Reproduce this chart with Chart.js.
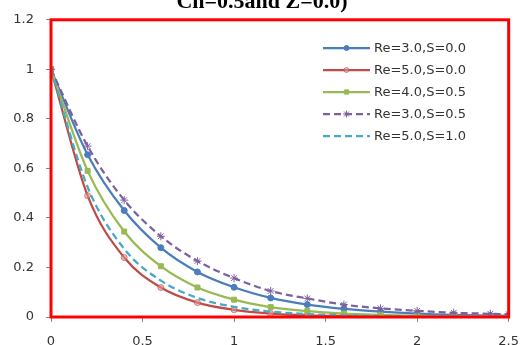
<!DOCTYPE html>
<html>
<head>
<meta charset="utf-8">
<script src="https://cdn.jsdelivr.net/npm/chart.js@4.4.0/dist/chart.umd.min.js"></script>
<style>
  html, body { margin: 0; padding: 0; background: #fff; overflow: hidden; }
  .wrap { position: relative; width: 531px; height: 345px; }
  .title {
    position: absolute; top: -10px; left: 0; width: 524px; text-align: center;
    font: bold 22px "Liberation Serif", serif; line-height: 22px; color: #000;
  }
</style>
</head>
<body>
<div class="wrap">
  <canvas class="chart" width="531" height="345"></canvas>
  <div class="title">Cn=0.5and Z=0.0)</div>
</div>
<script>
// x 값 (점 위치)
const xVals = [0, 0.2, 0.4, 0.6, 0.8, 1.0, 1.2, 1.4, 1.6, 1.8, 2.0, 2.2, 2.4, 2.5];

// 각 시리즈 값
const re3s0 = [1, 0.655, 0.43, 0.28, 0.182, 0.12, 0.077, 0.05, 0.033, 0.022, 0.014, 0.009, 0.006, 0.005];
const re5s0 = [1, 0.49, 0.24, 0.119, 0.058, 0.029, 0.014, 0.007, 0.004, 0.002, 0.001, 0.001, 0, 0];
const re4s05 = [1, 0.59, 0.345, 0.205, 0.119, 0.07, 0.04, 0.024, 0.014, 0.009, 0.005, 0.003, 0.002, 0.001];
const re3s05 = [1, 0.69, 0.472, 0.326, 0.226, 0.157, 0.105, 0.075, 0.05, 0.035, 0.025, 0.017, 0.013, 0.011];
const re5s1 = [1, 0.525, 0.275, 0.147, 0.077, 0.041, 0.022, 0.012, 0.007, 0.004, 0.002, 0.001, 0.001, 0];

const seriesNames = ["Re=3.0,S=0.0", "Re=5.0,S=0.0", "Re=4.0,S=0.5", "Re=3.0,S=0.5", "Re=5.0,S=1.0"];

// x축, y축 눈금
const xTicks = [0, 0.5, 1, 1.5, 2, 2.5];
const yTicks = [0, 0.2, 0.4, 0.6, 0.8, 1, 1.2];

const toPoints = (ys) => ys.map((y, i) => ({ x: xVals[i], y: y }));
// 0.0 -> 0, 1.0 -> 1 처럼 엑셀식 표시
const fmt = (v) => String(Math.round(v * 10) / 10);

const makeSet = (name, ys, color, opts) => {
  return Object.assign({
    label: name,
    data: toPoints(ys),
    borderColor: color,
    backgroundColor: color,
    pointBackgroundColor: color,
    pointBorderColor: color,
    borderWidth: 2.25,
    pointRadius: 3,
    pointBorderWidth: 1,
    cubicInterpolationMode: "monotone",
    fill: false,
  }, opts);
};

const datasets = [
  makeSet(seriesNames[0], re3s0, "#4A7EBB", { pointStyle: "circle", pointRadius: 3, order: 5 }),
  makeSet(seriesNames[1], re5s0, "#BE4B48", { pointStyle: "circle", pointRadius: 3, pointBackgroundColor: "rgba(220,150,150,0.6)", pointBorderColor: "rgba(190,75,72,0.6)", order: 4 }),
  makeSet(seriesNames[2], re4s05, "#98B954", { pointStyle: "rect", pointRadius: 3.5, order: 3 }),
  makeSet(seriesNames[3], re3s05, "#7D60A0", { pointStyle: "star", pointRadius: 4, borderDash: [7, 4], order: 2 }),
  makeSet(seriesNames[4], re5s1, "#46AAC5", { pointRadius: 0, borderDash: [7, 4], order: 1 }),
];

// 빨간 테두리 + 범례 그리기
const framePlugin = {
  id: "frame",
  afterDraw(chart) {
    const ctx = chart.ctx;
    const a = chart.chartArea;
    ctx.save();
    ctx.strokeStyle = "#FF0000";
    ctx.lineWidth = 3;
    ctx.strokeRect(a.left, a.top, a.right - a.left, a.bottom - a.top);

    // 범례
    const lx = 323, ly = 48, gap = 22, len = 47;
    ctx.font = "13px 'DejaVu Sans'";
    ctx.textBaseline = "middle";
    chart.data.datasets.forEach((ds, i) => {
      const y = ly + i * gap;
      ctx.save();
      ctx.strokeStyle = ds.borderColor;
      ctx.lineWidth = ds.borderWidth;
      ctx.setLineDash(ds.borderDash || []);
      ctx.beginPath();
      ctx.moveTo(lx, y);
      ctx.lineTo(lx + len, y);
      ctx.stroke();
      ctx.restore();
      if (ds.pointRadius > 0) {
        ctx.save();
        ctx.fillStyle = ds.pointBackgroundColor;
        ctx.strokeStyle = ds.pointBorderColor;
        ctx.lineWidth = 1;
        Chart.helpers.drawPoint(ctx, { pointStyle: ds.pointStyle, radius: ds.pointRadius - 0.5, rotation: 0, borderWidth: 1 }, lx + len / 2, y);
        ctx.restore();
      }
      ctx.fillStyle = "#333";
      ctx.fillText(ds.label, lx + len + 4, y + 1);
    });
    ctx.restore();
  },
};

const ctx = document.querySelector(".chart");
const myChart = new Chart(ctx, {
  type: "line",
  data: { datasets: datasets },
  plugins: [framePlugin],
  options: {
    responsive: false,
    animation: false,
    layout: { padding: { top: 19, right: 10, left: 0, bottom: 0 }, autoPadding: false },
    plugins: { legend: { display: false }, tooltip: { enabled: false } },
    scales: {
      x: {
        type: "linear",
        min: 0,
        max: 2.5,
        afterBuildTicks: (scale) => { scale.ticks = xTicks.map((v) => ({ value: v })); },
        afterFit: (scale) => { scale.height = 28; },
        grid: { drawOnChartArea: false, drawTicks: true, tickLength: 5, color: "#888" },
        border: { display: false },
        ticks: { color: "#333", font: { family: "DejaVu Sans", size: 13 }, padding: 12, maxRotation: 0, callback: fmt },
      },
      y: {
        min: 0,
        max: 1.2,
        afterBuildTicks: (scale) => { scale.ticks = yTicks.map((v) => ({ value: v })); },
        afterFit: (scale) => { scale.width = 51; },
        grid: { drawOnChartArea: false, drawTicks: true, tickLength: 5, color: "#888" },
        border: { display: false },
        ticks: { color: "#333", font: { family: "DejaVu Sans", size: 13 }, padding: 12, callback: fmt },
      },
    },
  },
});
</script>
</body>
</html>
